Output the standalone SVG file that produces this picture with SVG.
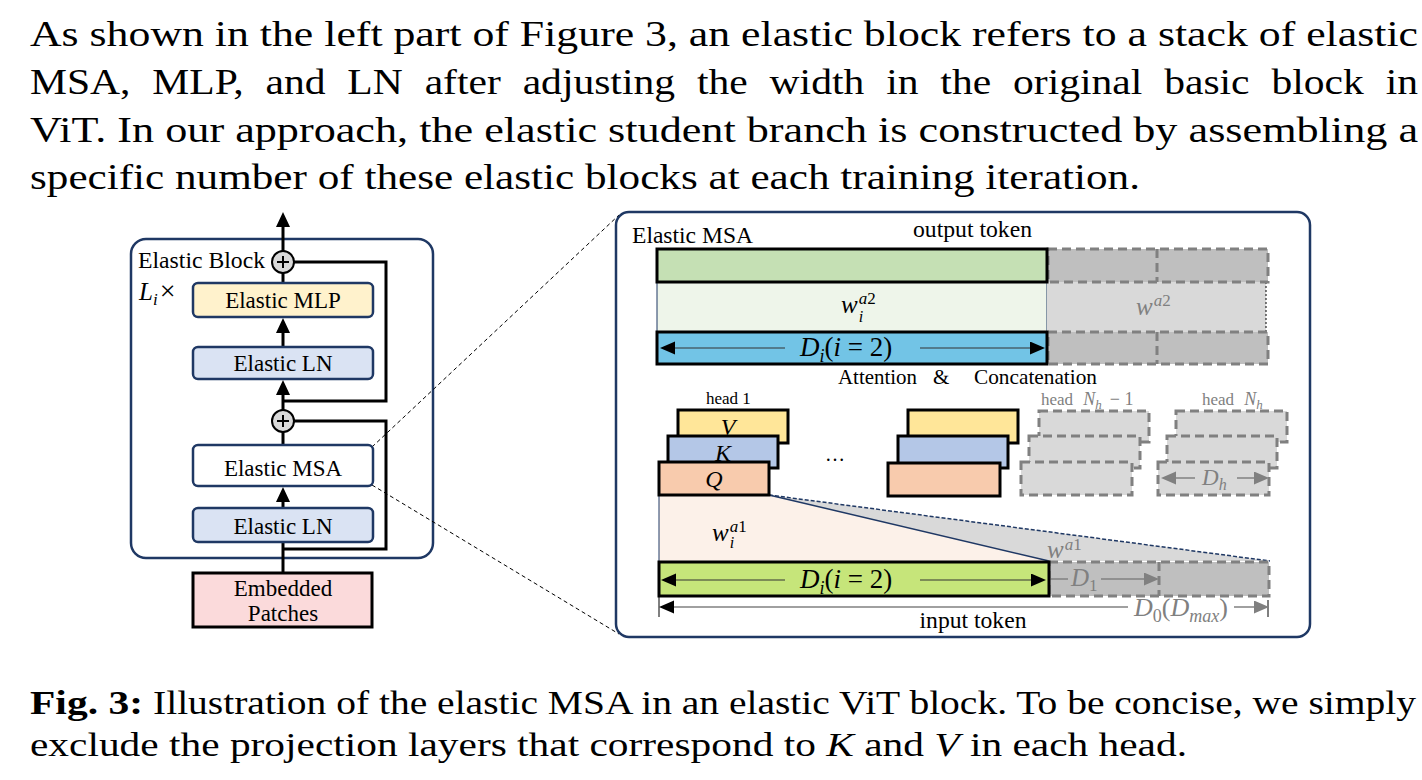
<svg xmlns="http://www.w3.org/2000/svg" width="1422" height="780" viewBox="0 0 1422 780">
<style>
text{font-family:"Liberation Serif","Times New Roman",serif;fill:#000}
.p{font-size:36px}
.c{font-size:34px}
.lb{font-size:23px;text-anchor:middle}
.m{font-style:italic}
.g{fill:#808080}
.nb{stroke:#1f3864;stroke-width:2.5}
.blk{stroke:#000;stroke-width:3}
.dh{fill:#d9d9d9;stroke:#808080;stroke-width:3;stroke-dasharray:9 5}
.db{fill:#bfbfbf;stroke:#808080;stroke-width:3;stroke-dasharray:9 5}
.ln{stroke:#000;stroke-width:3;fill:none}
.zl{stroke:#000;stroke-width:1;stroke-dasharray:4 3;fill:none}
.dim{stroke:#333;stroke-width:1.2;fill:none}
.dimg{stroke:#808080;stroke-width:1.5;fill:none}
</style>
<defs>
<marker id="ah" markerUnits="userSpaceOnUse" markerWidth="16" markerHeight="16" refX="4" refY="7" orient="auto"><path d="M0,0 L15,7 L0,14z" fill="#000"/></marker>
<marker id="as" markerUnits="userSpaceOnUse" markerWidth="16" markerHeight="14" refX="3" refY="6.5" orient="auto-start-reverse"><path d="M0,0 L15,6.5 L0,13z" fill="#000"/></marker>
<marker id="ag" markerUnits="userSpaceOnUse" markerWidth="16" markerHeight="14" refX="3" refY="6.5" orient="auto-start-reverse"><path d="M0,0 L15,6.5 L0,13z" fill="#808080"/></marker>
</defs>
<rect x="0" y="0" width="1422" height="780" fill="#fff"/>

<g id="paragraph">
<text class="p" x="30" y="46" textLength="1388" lengthAdjust="spacingAndGlyphs">As shown in the left part of Figure 3, an elastic block refers to a stack of elastic</text>
<text class="p" x="30" y="94" textLength="1388" lengthAdjust="spacingAndGlyphs" word-spacing="10">MSA, MLP, and LN after adjusting the width in the original basic block in</text>
<text class="p" x="30" y="142" textLength="1388" lengthAdjust="spacingAndGlyphs">ViT. In our approach, the elastic student branch is constructed by assembling a</text>
<text class="p" x="30" y="189" textLength="1110" lengthAdjust="spacingAndGlyphs">specific number of these elastic blocks at each training iteration.</text>
</g>

<g id="caption">
<text class="c" x="30" y="714" font-weight="bold" textLength="113" lengthAdjust="spacingAndGlyphs">Fig. 3:</text>
<text class="c" x="153" y="714" textLength="1263" lengthAdjust="spacingAndGlyphs">Illustration of the elastic MSA in an elastic ViT block. To be concise, we simply</text>
<text class="c" x="30" y="756" textLength="1157" lengthAdjust="spacingAndGlyphs">exclude the projection layers that correspond to <tspan font-style="italic">K</tspan> and <tspan font-style="italic">V</tspan> in each head.</text>
</g>

<g id="elastic-block">
<rect x="131" y="239" width="302" height="319" rx="15" fill="none" stroke="#1f3864" stroke-width="2.5"/>
<text x="138" y="268" font-size="23" textLength="127" lengthAdjust="spacingAndGlyphs">Elastic Block</text>
<text x="139" y="300" font-size="25"><tspan font-style="italic">L</tspan><tspan font-style="italic" font-size="17" dy="5">i</tspan><tspan font-size="28" dy="-5" dx="2">×</tspan></text>
</g>

<g id="connectors">
<line class="ln" x1="283" y1="573" x2="283" y2="542"/>
<line class="ln" x1="283" y1="508" x2="283" y2="498" marker-end="url(#ah)"/>
<line class="ln" x1="283" y1="445" x2="283" y2="432"/>
<line class="ln" x1="283" y1="410" x2="283" y2="391" marker-end="url(#ah)"/>
<line class="ln" x1="283" y1="347" x2="283" y2="329" marker-end="url(#ah)"/>
<line class="ln" x1="283" y1="283" x2="283" y2="273"/>
<line class="ln" x1="283" y1="251" x2="283" y2="223" marker-end="url(#ah)"/>
<polyline class="ln" points="283,401 386,401 386,262 294,262"/>
<polyline class="ln" points="283,549 386,549 386,421 294,421"/>
<line class="zl" x1="372" y1="447" x2="619" y2="215"/>
<line class="zl" x1="372" y1="485" x2="619" y2="634"/>
<line stroke="#000" stroke-width="2.5" x1="962" y1="406" x2="962" y2="377" marker-end="url(#ah)"/>
</g>

<g id="add-top">
<circle cx="283" cy="262" r="11" fill="#d9d9d9" stroke="#000" stroke-width="2"/>
<path d="M277,262 H289 M283,256 V268" stroke="#000" stroke-width="2"/>
</g>
<g id="add-bottom">
<circle cx="283" cy="421" r="11" fill="#d9d9d9" stroke="#000" stroke-width="2"/>
<path d="M277,421 H289 M283,415 V427" stroke="#000" stroke-width="2"/>
</g>
<g id="elastic-mlp">
<rect class="nb" x="193" y="283" width="180" height="34" rx="5" fill="#fff2cc"/>
<text class="lb" x="283" y="308">Elastic MLP</text>
</g>
<g id="elastic-ln-top">
<rect class="nb" x="193" y="347" width="180" height="32" rx="5" fill="#dae3f3"/>
<text class="lb" x="283" y="371">Elastic LN</text>
</g>
<g id="elastic-msa">
<rect class="nb" x="193" y="445" width="180" height="41" rx="5" fill="#fff"/>
<text class="lb" x="283" y="476">Elastic MSA</text>
</g>
<g id="elastic-ln-bottom">
<rect class="nb" x="193" y="508" width="180" height="34" rx="5" fill="#dae3f3"/>
<text class="lb" x="283" y="534">Elastic LN</text>
</g>
<g id="embedded-patches">
<rect x="193" y="573" width="179" height="54" fill="#fbdadb" stroke="#000" stroke-width="3"/>
<text class="lb" x="283" y="596">Embedded</text>
<text class="lb" x="283" y="621">Patches</text>
</g>

<g id="elastic-msa-panel">
<rect x="616" y="212" width="694" height="425" rx="13" fill="#fff" stroke="#1f3864" stroke-width="2.5"/>
<text x="632" y="243" font-size="23" textLength="121" lengthAdjust="spacingAndGlyphs">Elastic MSA</text>
<text x="913" y="237" font-size="23" textLength="119" lengthAdjust="spacingAndGlyphs">output token</text>

<!-- w^a2 region -->
<rect x="657" y="282" width="390" height="50" fill="#eef5ea" stroke="#1f3864" stroke-width="1"/>
<rect x="1047" y="282" width="219" height="50" fill="#d9d9d9"/>
<line x1="1266" y1="282" x2="1266" y2="332" stroke="#000" stroke-width="1" stroke-dasharray="2 2"/>
<text x="841" y="313" font-size="25"><tspan font-style="italic">w</tspan><tspan font-size="17" dy="-9" dx="1"><tspan font-style="italic">a</tspan>2</tspan><tspan font-style="italic" font-size="16" dx="-17" dy="18">i</tspan></text>
<text x="1136" y="315" font-size="25" class="g"><tspan font-style="italic">w</tspan><tspan font-size="17" dy="-9" dx="1"><tspan font-style="italic">a</tspan>2</tspan></text>

<!-- output token bars -->
<rect class="db" x="1048" y="249" width="220" height="33"/>
<line class="db" x1="1157" y1="249" x2="1157" y2="282"/>
<rect class="blk" x="657" y="249" width="390" height="33" fill="#c5e0b4"/>
<rect class="db" x="1048" y="332" width="220" height="32"/>
<line class="db" x1="1157" y1="332" x2="1157" y2="364"/>
<rect class="blk" x="657" y="332" width="390" height="32" fill="#72c4e6"/>
<line class="dim" x1="672" y1="348" x2="785" y2="348" marker-start="url(#as)"/>
<line class="dim" x1="920" y1="348" x2="1033" y2="348" marker-end="url(#as)"/>
<text x="800" y="356" font-size="27"><tspan font-style="italic">D</tspan><tspan font-style="italic" font-size="18" dy="6">i</tspan><tspan dy="-6">(</tspan><tspan font-style="italic">i</tspan> = 2)</text>

<text x="838" y="384" font-size="21" textLength="79" lengthAdjust="spacingAndGlyphs">Attention</text>
<text x="933" y="384" font-size="21">&amp;</text>
<text x="974" y="384" font-size="21" textLength="123" lengthAdjust="spacingAndGlyphs">Concatenation</text>

<!-- input side regions -->
<polygon points="659,495 769,495 1049,561 659,561" fill="#fcf1e9"/>
<line x1="659" y1="495" x2="659" y2="561" stroke="#1f3864" stroke-width="1"/>
<polygon points="769,495 1270,561 1049,561" fill="#d9d9d9"/>
<line x1="769" y1="495" x2="1270" y2="561" stroke="#1f3864" stroke-width="1.5" stroke-dasharray="4 2"/>
<line x1="769" y1="495" x2="1049" y2="561" stroke="#1f3864" stroke-width="1.5"/>
<text x="712" y="541" font-size="25"><tspan font-style="italic">w</tspan><tspan font-size="17" dy="-9" dx="1"><tspan font-style="italic">a</tspan>1</tspan><tspan font-style="italic" font-size="16" dx="-17" dy="16">i</tspan></text>
<text x="1047" y="558" font-size="25" class="g"><tspan font-style="italic">w</tspan><tspan font-size="17" dy="-8" dx="1"><tspan font-style="italic">a</tspan>1</tspan></text>

<rect class="db" x="1049" y="562" width="220" height="34"/>
<line class="db" x1="1159" y1="562" x2="1159" y2="596"/>
<rect class="blk" x="659" y="562" width="390" height="34" fill="#c6e57a"/>
<line class="dim" x1="673" y1="580" x2="785" y2="580" marker-start="url(#as)"/>
<line class="dim" x1="920" y1="580" x2="1034" y2="580" marker-end="url(#as)"/>
<text x="800" y="588" font-size="27"><tspan font-style="italic">D</tspan><tspan font-style="italic" font-size="18" dy="6">i</tspan><tspan dy="-6">(</tspan><tspan font-style="italic">i</tspan> = 2)</text>
<line class="dimg" x1="1051" y1="579" x2="1068" y2="579"/>
<line class="dimg" x1="1101" y1="579" x2="1147" y2="579" marker-end="url(#ag)"/>
<text x="1071" y="586" font-size="25" class="g"><tspan font-style="italic">D</tspan><tspan font-size="17" dy="5">1</tspan></text>

<line x1="659" y1="597" x2="659" y2="617" stroke="#000" stroke-width="1"/>
<line x1="1268" y1="600" x2="1268" y2="617" stroke="#000" stroke-width="1"/>
<line x1="671" y1="607" x2="1128" y2="607" stroke="#808080" stroke-width="1.3" marker-start="url(#as)"/>
<line class="dimg" x1="1234" y1="607" x2="1257" y2="607" marker-end="url(#ag)"/>
<text x="1134" y="616" font-size="26" class="g"><tspan font-style="italic">D</tspan><tspan font-size="18" dy="6">0</tspan><tspan dy="-6">(</tspan><tspan font-style="italic">D</tspan><tspan font-style="italic" font-size="18" dy="6">max</tspan><tspan dy="-6">)</tspan></text>
<text x="973" y="628" font-size="23" text-anchor="middle" textLength="107" lengthAdjust="spacingAndGlyphs">input token</text>

<!-- head 1 -->
<text x="706" y="404" font-size="17">head 1</text>
<rect class="blk" x="678" y="410" width="110" height="33" fill="#ffe699"/>
<text x="728" y="435" font-size="24" class="m" text-anchor="middle">V</text>
<rect class="blk" x="668" y="436" width="110" height="32" fill="#b4c7e7"/>
<text x="723" y="461" font-size="24" class="m" text-anchor="middle">K</text>
<rect class="blk" x="659" y="462" width="110" height="33" fill="#f8cbad"/>
<text x="714" y="487" font-size="24" class="m" text-anchor="middle">Q</text>
<text x="835" y="461" font-size="20" text-anchor="middle">…</text>

<!-- second head -->
<rect class="blk" x="908" y="410" width="110" height="33" fill="#ffe699"/>
<rect class="blk" x="898" y="436" width="110" height="32" fill="#b4c7e7"/>
<rect class="blk" x="888" y="463" width="112" height="33" fill="#f8cbad"/>

<!-- head Nh-1 -->
<text x="1041" y="405" font-size="17" class="g">head  <tspan font-style="italic" font-size="18" dx="6">N</tspan><tspan font-style="italic" font-size="13" dy="4">h</tspan><tspan font-size="18" dy="-4" dx="8">− 1</tspan></text>
<rect class="dh" x="1039" y="411" width="110" height="31"/>
<rect class="dh" x="1029" y="436" width="111" height="32"/>
<rect class="dh" x="1021" y="462" width="111" height="33"/>

<!-- head Nh -->
<text x="1202" y="405" font-size="17" class="g">head  <tspan font-style="italic" font-size="18" dx="6">N</tspan><tspan font-style="italic" font-size="13" dy="4">h</tspan></text>
<rect class="dh" x="1176" y="411" width="111" height="31"/>
<rect class="dh" x="1167" y="436" width="110" height="32"/>
<rect class="dh" x="1158" y="462" width="111" height="33"/>
<line class="dimg" x1="1173" y1="478" x2="1195" y2="478" marker-start="url(#ag)"/>
<line class="dimg" x1="1237" y1="478" x2="1257" y2="478" marker-end="url(#ag)"/>
<text x="1202" y="485" font-size="23" class="g"><tspan font-style="italic">D</tspan><tspan font-style="italic" font-size="16" dy="5">h</tspan></text>
</g>
</svg>
